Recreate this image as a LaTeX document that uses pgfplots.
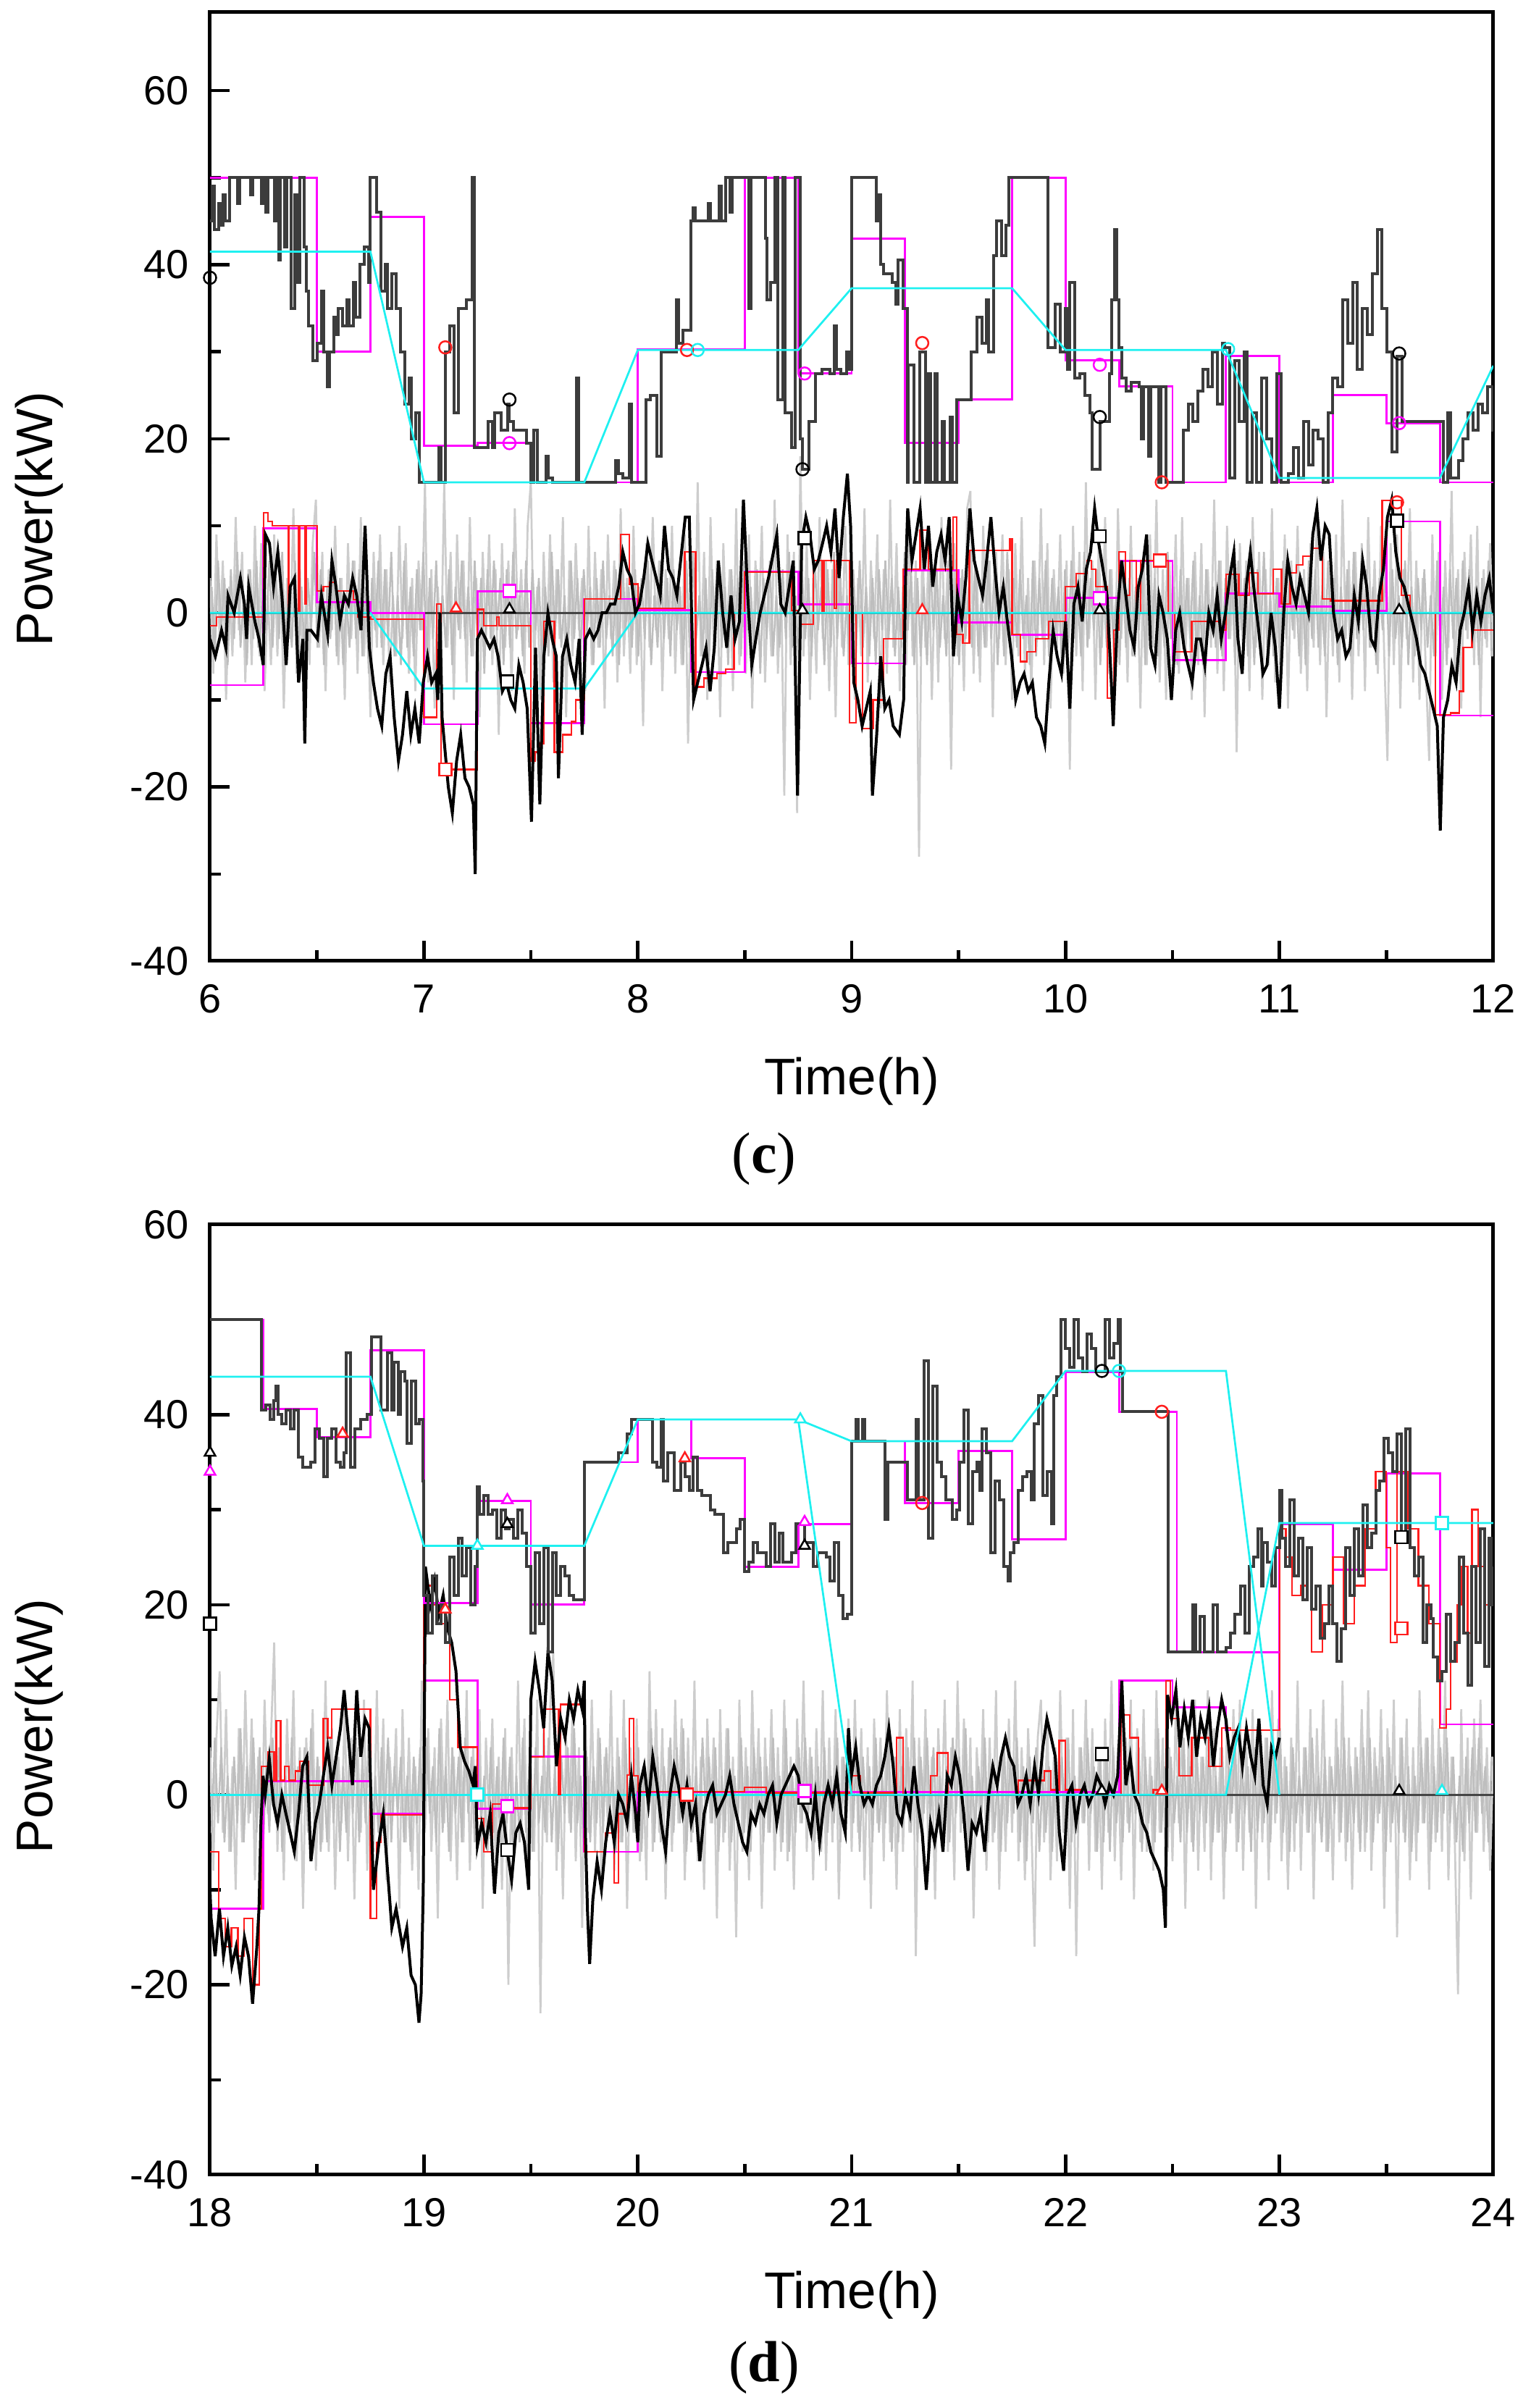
\documentclass[border=0pt]{standalone}
\usepackage{pgfplots}
\usepackage{pgfplotstable}
\pgfplotsset{compat=1.18}
\usepackage{fontspec}
\setmainfont{Liberation Sans}
\newfontfamily\tnr{Liberation Serif}
\definecolor{mag}{RGB}{255,0,255}
\definecolor{cya}{RGB}{30,240,240}
\definecolor{rd}{RGB}{255,30,30}
\definecolor{gr}{RGB}{205,205,205}
\definecolor{grc}{RGB}{190,190,190}
\definecolor{dk}{RGB}{60,60,60}
\definecolor{zl}{RGB}{70,70,70}
\pgfplotstableread[header=false, row sep=\\]{
3\\-5\\6\\-2\\4\\-6\\5\\-3\\7\\-4\\2\\-6\\5\\-3\\6\\-5\\4\\-2\\6\\-4\\
5\\-3\\7\\-5\\2\\-4\\6\\-6\\3\\-5\\4\\-2\\7\\-4\\5\\-6\\3\\-3\\6\\-5\\
4\\-6\\2\\-4\\6\\-3\\5\\-5\\3\\-7\\4\\-2\\6\\-4\\5\\-3\\7\\-5\\2\\-6\\
6\\-4\\3\\-5\\5\\-2\\7\\-6\\4\\-3\\6\\-5\\2\\-4\\5\\-6\\3\\-2\\6\\-3\\
3\\-5\\6\\-4\\4\\-7\\5\\-3\\6\\-2\\4\\-6\\5\\-4\\7\\-3\\2\\-5\\6\\-4\\
5\\-2\\4\\-6\\3\\-5\\7\\-3\\5\\-4\\2\\-6\\6\\-3\\4\\-5\\5\\-2\\3\\-6\\
4\\-4\\6\\-3\\2\\-5\\5\\-6\\7\\-2\\3\\-4\\5\\-5\\4\\-3\\6\\-6\\2\\-4\\
6\\-3\\4\\-5\\5\\-2\\3\\-6\\6\\-4\\7\\-3\\2\\-5\\4\\-6\\5\\-2\\6\\-4\\
3\\-6\\5\\-3\\4\\-5\\6\\-2\\3\\-4\\5\\-7\\4\\-3\\6\\-5\\2\\-4\\5\\-3\\
7\\-4\\2\\-6\\5\\-3\\4\\-5\\6\\-2\\3\\-6\\5\\-4\\7\\-3\\4\\-5\\2\\-6\\
5\\-3\\6\\-4\\3\\-5\\4\\-6\\5\\-2\\6\\-3\\4\\-5\\3\\-4\\7\\-2\\5\\-6\\
4\\-5\\3\\-6\\6\\-2\\5\\-4\\2\\-5\\6\\-3\\4\\-6\\5\\-3\\3\\-4\\6\\-5\\
2\\-4\\6\\-3\\5\\-6\\3\\-5\\7\\-2\\4\\-4\\5\\-3\\2\\-6\\6\\-5\\4\\-3\\
6\\-5\\4\\-2\\3\\-6\\5\\-4\\6\\-3\\2\\-5\\7\\-4\\4\\-2\\5\\-6\\3\\-4\\
5\\-3\\2\\-6\\6\\-4\\4\\-5\\3\\-2\\5\\-6\\6\\-3\\4\\-5\\2\\-4\\7\\-3\\
3\\-6\\5\\-4\\4\\-3\\6\\-5\\2\\-6\\5\\-2\\3\\-4\\6\\-5\\4\\-3\\5\\-6\\
6\\-2\\4\\-5\\3\\-6\\5\\-3\\7\\-4\\2\\-5\\4\\-6\\6\\-3\\5\\-2\\3\\-5\\
4\\-6\\6\\-3\\5\\-4\\2\\-5\\6\\-2\\4\\-6\\3\\-4\\5\\-5\\7\\-3\\4\\-2\\
5\\-4\\3\\-6\\4\\-2\\6\\-5\\5\\-3\\2\\-4\\6\\-6\\3\\-5\\4\\-2\\5\\-4\\
2\\-5\\6\\-4\\3\\-6\\5\\-3\\4\\-5\\6\\-2\\5\\-4\\3\\-6\\4\\-3\\6\\-5\\
}\coreC
\pgfplotstableread[header=false, row sep=\\]{
-4\\6\\-3\\5\\-5\\2\\-6\\4\\-3\\7\\-5\\3\\-2\\6\\-4\\5\\-6\\3\\-4\\6\\
-3\\5\\-6\\2\\-4\\6\\-5\\3\\-2\\5\\-4\\7\\-3\\4\\-6\\2\\-5\\6\\-3\\4\\
-6\\3\\-4\\5\\-2\\6\\-5\\4\\-3\\7\\-6\\2\\-4\\5\\-3\\6\\-5\\3\\-2\\4\\
-5\\2\\-6\\4\\-3\\5\\-4\\6\\-2\\3\\-5\\7\\-4\\3\\-6\\5\\-2\\4\\-5\\6\\
-2\\4\\-5\\6\\-3\\2\\-6\\5\\-4\\3\\-5\\6\\-3\\4\\-7\\2\\-5\\6\\-4\\3\\
-6\\5\\-3\\2\\-4\\6\\-5\\3\\-6\\4\\-2\\5\\-4\\7\\-3\\2\\-6\\4\\-5\\3\\
-3\\6\\-4\\5\\-2\\3\\-6\\4\\-5\\6\\-3\\2\\-4\\5\\-6\\3\\-2\\7\\-5\\4\\
-5\\3\\-2\\6\\-4\\5\\-3\\7\\-6\\2\\-4\\3\\-5\\6\\-2\\4\\-3\\5\\-6\\2\\
-4\\7\\-5\\2\\-3\\6\\-4\\3\\-6\\5\\-2\\4\\-5\\3\\-4\\6\\-3\\2\\-5\\7\\
-6\\2\\-4\\5\\-3\\6\\-2\\4\\-5\\3\\-6\\5\\-4\\2\\-3\\6\\-5\\4\\-2\\5\\
-3\\5\\-6\\4\\-2\\3\\-5\\6\\-4\\2\\-3\\7\\-6\\4\\-5\\3\\-2\\5\\-4\\6\\
-5\\4\\-2\\6\\-3\\5\\-4\\2\\-6\\3\\-5\\6\\-2\\4\\-3\\7\\-5\\2\\-4\\3\\
-2\\6\\-5\\3\\-4\\2\\-6\\5\\-3\\4\\-2\\6\\-5\\3\\-7\\4\\-3\\5\\-6\\2\\
-4\\3\\-6\\5\\-2\\4\\-3\\6\\-5\\2\\-4\\5\\-3\\6\\-2\\3\\-6\\4\\-5\\5\\
-6\\5\\-3\\2\\-5\\6\\-4\\3\\-2\\5\\-6\\4\\-3\\2\\-5\\7\\-4\\3\\-6\\4\\
-3\\2\\-5\\6\\-4\\3\\-6\\5\\-2\\4\\-3\\6\\-5\\2\\-4\\5\\-6\\3\\-2\\6\\
-5\\4\\-2\\3\\-6\\5\\-4\\2\\-3\\6\\-5\\4\\-2\\7\\-4\\3\\-6\\5\\-3\\2\\
-2\\5\\-4\\6\\-3\\2\\-5\\4\\-6\\3\\-2\\5\\-4\\6\\-5\\3\\-3\\4\\-6\\5\\
-4\\6\\-5\\3\\-2\\4\\-6\\5\\-3\\2\\-4\\6\\-5\\3\\-6\\2\\-4\\5\\-3\\6\\
-6\\3\\-4\\5\\-2\\6\\-3\\4\\-5\\2\\-6\\4\\-3\\5\\-4\\6\\-2\\3\\-5\\4\\
}\coreD
\pgfplotsset{
  panel/.style={
    anchor=south west, scale only axis, width=354.4pt,
    xtick distance=1, ytick={-40,-20,0,20,40,60},
    minor x tick num=1, minor y tick num=1,
    tick pos=left, tick align=inside,
    major tick length=5.5pt, minor tick length=3pt,
    every tick/.style={black, line width=0.9pt},
    axis line style={line width=1pt, black},
    ticklabel style={font=\fontsize{11.2}{13}\selectfont},
    xticklabel style={yshift=-3pt},
    yticklabel style={xshift=-2.3pt},
    /pgf/number format/assume math mode=true,
    xlabel={Time(h)}, ylabel={Power(kW)},
    label style={font=\fontsize{14.2}{17}\selectfont},
    xlabel style={at={(axis description cs:0.5,0)}, anchor=base, yshift=-37pt},
  },
  gry/.style={gr, line width=0.55pt},
  gryc/.style={grc, line width=0.5pt},
  lbk/.style={black, line width=0.8pt},
  ubk/.style={dk, line width=0.8pt, const plot},
  mg/.style={mag, line width=0.55pt, const plot},
  rdl/.style={rd, line width=0.45pt, const plot},
  cy/.style={cya, line width=0.55pt},
  mk/.style={only marks, mark size=1.7pt, mark options={fill=white, line width=0.5pt}},
}
\begin{document}
\begin{tikzpicture}
\path[use as bounding box] (0,0) rectangle (422.8pt,665pt);
% ================= (c) =================
\begin{axis}[panel, at={(58pt,399.6pt)}, height=262pt,
  xmin=6, xmax=12, ymin=-40, ymax=69,
  ylabel style={at={(axis description cs:-0.133,0.466)}, anchor=center}]
\addplot[gry] table[x expr={6+0.015*\coordindex}, y index=0, header=false, row sep=\\] {
4\\-7\\9\\-3\\6\\-10\\3\\-5\\11\\-2\\7\\-8\\5\\-6\\10\\-4\\8\\-9\\2\\-6\\
9\\-5\\6\\-11\\4\\-3\\12\\-7\\5\\-8\\3\\-6\\8\\13\\-4\\7\\-9\\5\\-2\\10\\
-6\\4\\-10\\8\\-3\\6\\-7\\11\\-5\\3\\-12\\7\\-4\\9\\-6\\5\\-8\\2\\-5\\10\\
-3\\8\\-7\\4\\-9\\6\\-2\\15\\-8\\5\\-11\\3\\-6\\15\\-4\\7\\-10\\9\\-3\\6\\
-8\\11\\-5\\4\\-12\\7\\-3\\9\\-6\\5\\-14\\8\\-4\\6\\-9\\12\\-2\\5\\-7\\10\\
15\\-6\\3\\-10\\7\\-4\\9\\-8\\5\\-3\\11\\-12\\6\\-5\\8\\-2\\4\\-9\\10\\-6\\
7\\-4\\5\\-11\\9\\-3\\6\\-8\\12\\-5\\4\\-7\\10\\-6\\3\\-13\\8\\-4\\11\\-2\\
6\\-9\\5\\-3\\10\\-7\\4\\-6\\9\\-15\\3\\-8\\15\\-5\\7\\-10\\11\\-4\\6\\-12\\
8\\-3\\5\\-9\\12\\-6\\4\\-7\\9\\-11\\6\\-2\\10\\-8\\3\\-5\\13\\-7\\4\\-21\\
9\\-6\\7\\-23\\18\\-5\\8\\-10\\4\\-7\\11\\-3\\6\\-9\\5\\-12\\8\\-4\\10\\-6\\
7\\-10\\4\\-5\\12\\-8\\6\\-3\\9\\-11\\5\\-7\\13\\-4\\8\\-9\\3\\-6\\10\\-5\\
6\\-28\\9\\-4\\7\\-10\\5\\-8\\11\\-3\\6\\-18\\8\\-5\\4\\-9\\12\\14\\-7\\5\\
-8\\10\\-4\\6\\-12\\7\\-3\\9\\-6\\5\\-10\\8\\-5\\11\\-7\\4\\-9\\6\\-3\\12\\
-6\\8\\-11\\5\\-4\\9\\-7\\6\\-18\\10\\-5\\7\\-9\\15\\-3\\6\\-10\\8\\-4\\11\\
-7\\5\\-9\\12\\-3\\6\\-8\\10\\-5\\4\\-11\\7\\-6\\9\\-4\\13\\-8\\5\\-10\\6\\
-3\\9\\-7\\11\\-5\\4\\-10\\7\\-6\\8\\-12\\5\\-4\\13\\-7\\6\\-9\\10\\-3\\7\\
-16\\8\\-5\\6\\-9\\11\\-4\\7\\-10\\5\\-6\\12\\-8\\4\\-7\\9\\-11\\6\\-3\\10\\
-7\\5\\-9\\8\\-4\\11\\-6\\7\\-12\\4\\-5\\9\\-8\\13\\-3\\6\\-10\\7\\-5\\8\\
-9\\11\\-4\\6\\-7\\10\\-5\\-17\\8\\-6\\9\\-11\\5\\-3\\12\\-8\\6\\-10\\4\\-7\\
-17\\9\\-5\\7\\-10\\6\\-4\\14\\-8\\5\\-11\\7\\-3\\9\\-6\\10\\-12\\5\\-4\\8\\
-5\\
};
\addplot[gryc] table[x expr={6.0075+0.015*\coordindex}, y index=0] {\coreC};
\addplot[zl, line width=0.6pt] coordinates {(6,0)(12,0)};
\addplot[mg] coordinates {(6.0,-8.3)(6.25,9.7)(6.5,1.2)(6.75,0)(7.0,-12.8)(7.25,2.5)(7.5,-12.7)(7.75,1.6)(8.0,0.3)(8.25,-6.8)(8.5,4.7)(8.75,1.0)(9.0,-5.8)(9.25,4.9)(9.5,-1.1)(9.75,-2.5)(10.0,1.7)(10.25,6.0)(10.5,-5.4)(10.75,2.2)(11.0,0.7)(11.25,0.2)(11.5,10.5)(11.75,-11.8)(12.0,-11.8)};
\addplot[rdl] coordinates {(6.00,-1.5)(6.03,-0.5)(6.25,11.5)(6.27,10.5)(6.29,10)(6.365,0)(6.37,10)(6.414,0)(6.42,10)(6.443,1)(6.45,10)(6.50,2.5)(6.53,3)(6.56,3.5)(6.59,2.5)(6.67,1.5)(6.69,-0.5)(6.75,-0.7)(7.00,-12)(7.06,1)(7.08,-18)(7.25,0.4)(7.28,-1.5)(7.34,-0.5)(7.35,-1.5)(7.50,-17)(7.52,-16)(7.54,-15)(7.56,-1)(7.61,-16)(7.65,-14)(7.69,-12.5)(7.71,-10)(7.75,1.6)(7.92,9)(7.96,3.3)(8.00,0.5)(8.22,7)(8.27,-8.5)(8.31,-7.5)(8.37,-7)(8.41,-6.5)(8.45,0)(8.50,4.7)(8.72,0.3)(8.76,-1.3)(8.82,6)(8.86,0)(8.87,6)(8.92,0.5)(8.93,6)(8.99,-12.6)(9.02,0)(9.05,-13.3)(9.10,-10)(9.15,-3)(9.24,5)(9.32,9.5)(9.36,5)(9.475,11)(9.49,-2.5)(9.52,-3.5)(9.55,7.2)(9.74,8.5)(9.75,-2.5)(9.79,-5.6)(9.82,-4.5)(9.86,-3)(9.92,-1)(10.00,3)(10.05,4.5)(10.10,6)(10.12,5)(10.14,3)(10.195,-9.8)(10.225,-2)(10.25,7)(10.28,2)(10.30,6)(10.33,0)(10.35,6)(10.48,0)(10.51,-4.5)(10.59,-1)(10.72,-2)(10.75,4.4)(10.81,2)(10.86,4.6)(10.90,2.2)(10.97,5)(11.01,1)(11.05,4.6)(11.08,5.5)(11.11,6.5)(11.15,7.4)(11.20,1.6)(11.24,1.4)(11.48,12.9)(11.57,2)(11.61,0)(11.73,-11.7)(11.80,-11.5)(11.84,-9)(11.86,-4)(11.90,-2)(12.0,-2)};
\addplot[cy] coordinates {(6,0)(6.75,0)(7.0,-8.7)(7.75,-8.7)(8.0,0)(12,0)};
\addplot[lbk] coordinates {(6.000,-3)(6.025,-5)(6.054,-2)(6.074,-4)(6.084,2)(6.113,0)(6.142,4)(6.161,1)(6.171,-3)(6.181,3)(6.210,-1)(6.229,-3)(6.249,-6)(6.259,9)(6.278,8)(6.297,3)(6.317,7)(6.336,2)(6.356,-6)(6.375,3)(6.395,4)(6.414,-8)(6.434,-3)(6.443,-15)(6.453,-2)(6.472,-2)(6.502,-3)(6.521,2)(6.550,-2.5)(6.570,6)(6.589,3)(6.608,-1)(6.628,2)(6.647,1)(6.667,4)(6.686,2)(6.706,-2)(6.725,10)(6.745,-4)(6.764,-8)(6.783,-11)(6.803,-13)(6.822,-7)(6.842,-5)(6.861,-12)(6.881,-17)(6.900,-14)(6.920,-9)(6.939,-14)(6.958,-11)(6.978,-15)(6.997,-8)(7.017,-5)(7.036,-8)(7.056,-7)(7.065,-10)(7.075,0)(7.085,-12)(7.114,-20)(7.133,-23)(7.153,-17)(7.172,-14)(7.192,-19)(7.211,-20)(7.231,-22)(7.240,-30)(7.250,-3)(7.269,-2)(7.289,-3)(7.308,-4)(7.328,-3)(7.347,-5)(7.367,-9)(7.386,-8)(7.406,-10)(7.425,-11)(7.444,-6)(7.464,-8)(7.483,-11)(7.503,-24)(7.522,-4)(7.542,-22)(7.561,-5)(7.580,0)(7.600,-3)(7.619,-5)(7.629,-19)(7.648,-5)(7.668,-3)(7.687,-6)(7.707,-8)(7.726,-3)(7.740,-14)(7.755,-3)(7.775,-2)(7.794,-3)(7.814,-2)(7.833,0)(7.853,0)(7.872,1)(7.892,1)(7.911,3)(7.930,7)(7.950,5)(7.969,4)(7.989,0)(8.008,1)(8.028,4)(8.047,8)(8.066,6)(8.086,4)(8.105,2)(8.125,10)(8.144,5)(8.164,4)(8.183,2)(8.222,11)(8.241,11)(8.261,-10)(8.280,-8)(8.300,-6)(8.319,-4)(8.338,-9)(8.358,-4)(8.377,6)(8.397,0)(8.416,-4)(8.436,2)(8.455,-3)(8.475,-1)(8.494,13)(8.514,2)(8.533,-6)(8.552,-3)(8.572,0)(8.611,4)(8.650,9)(8.669,1)(8.689,0)(8.708,3)(8.727,6)(8.747,-21)(8.766,8)(8.786,11)(8.805,9)(8.825,5)(8.844,6)(8.864,8)(8.883,10)(8.903,7)(8.922,12)(8.941,4)(8.961,11)(8.980,16)(8.995,10)(9.010,-8)(9.029,-10)(9.049,-13)(9.068,-11)(9.087,-9)(9.097,-21)(9.117,-14)(9.136,-5)(9.155,-11)(9.175,-10)(9.194,-13)(9.223,-14)(9.243,-10)(9.252,4)(9.262,12)(9.282,6)(9.301,9)(9.320,12)(9.340,5)(9.359,10)(9.379,3)(9.398,7)(9.418,9)(9.437,6)(9.456,11)(9.466,3)(9.476,-5)(9.495,2)(9.515,-1)(9.534,4)(9.553,12)(9.573,6)(9.592,4)(9.612,2)(9.631,6)(9.651,11)(9.670,5)(9.689,0)(9.709,3)(9.728,-1)(9.748,-5)(9.767,-10)(9.787,-8)(9.806,-7)(9.825,-9)(9.845,-8)(9.864,-12)(9.884,-13)(9.903,-15)(9.922,-8)(9.942,-2)(9.961,-5)(9.981,-7)(10.000,-1)(10.020,-11)(10.039,1)(10.058,3)(10.078,-1)(10.097,5)(10.117,7)(10.136,12)(10.155,8)(10.175,5)(10.194,2)(10.214,-8)(10.223,-13)(10.243,0)(10.262,6)(10.282,2)(10.301,-2)(10.321,-4)(10.340,3)(10.359,5)(10.379,9)(10.398,-4)(10.418,-6)(10.437,2)(10.456,0)(10.476,-3)(10.495,-10)(10.515,-2)(10.534,0)(10.554,-4)(10.573,-6)(10.592,-8)(10.612,-3)(10.631,-3)(10.651,-6)(10.670,0)(10.690,-2)(10.709,2)(10.728,-3)(10.748,0)(10.767,4)(10.787,7)(10.806,-3)(10.826,-7)(10.845,3)(10.864,7)(10.884,2)(10.903,-2)(10.923,-7)(10.942,-6)(10.961,0)(10.981,-4)(11.000,-11)(11.020,0)(11.039,6)(11.058,3)(11.078,1)(11.097,4)(11.117,2)(11.136,0)(11.156,9)(11.175,12)(11.194,6)(11.214,10)(11.233,9)(11.253,0)(11.272,-3)(11.291,-2)(11.311,-5)(11.330,-4)(11.350,2)(11.369,-1)(11.389,6)(11.408,3)(11.428,-3)(11.447,-4)(11.466,2)(11.486,5)(11.505,11)(11.525,13)(11.544,7)(11.563,4)(11.583,3)(11.602,1)(11.622,-1)(11.641,-3)(11.660,-6)(11.680,-7)(11.699,-9)(11.719,-11)(11.738,-13)(11.752,-25)(11.767,-12)(11.787,-10)(11.806,-6)(11.826,-8)(11.845,-2)(11.864,0)(11.884,3)(11.903,-2)(11.923,2)(11.942,-1)(11.961,2)(11.981,4)(12.000,0)};
\addplot[mg] coordinates {(6.0,50)(6.5,30)(6.75,45.5)(7.0,19.2)(7.25,19.5)(7.5,15)(8.0,30.3)(8.5,50)(8.75,27.5)(9.0,43)(9.25,19.5)(9.5,24.5)(9.75,50)(10.0,29)(10.25,26)(10.5,15)(10.75,29.5)(11.0,15)(11.25,25)(11.5,21.8)(11.75,15)(12.0,15)};
\addplot[ubk] coordinates {(6.00,45)(6.01,49)(6.02,44)(6.04,47)(6.05,44.5)(6.06,48)(6.07,45)(6.09,50)(6.13,47)(6.14,50)(6.19,48)(6.20,50)(6.24,47)(6.25,50)(6.26,46)(6.27,50)(6.30,45)(6.31,50)(6.32,40.5)(6.33,50)(6.35,42)(6.36,50)(6.38,35)(6.395,48)(6.41,38)(6.42,50)(6.44,42)(6.45,37)(6.46,33)(6.48,29)(6.50,31)(6.52,37)(6.53,30)(6.55,26)(6.56,30)(6.58,34)(6.59,32)(6.60,35)(6.62,33)(6.64,36)(6.65,33)(6.67,38)(6.68,34)(6.70,40)(6.72,42)(6.74,38)(6.75,50)(6.78,46)(6.80,37)(6.82,40)(6.83,35)(6.85,39)(6.87,35)(6.89,30)(6.91,24)(6.93,27)(6.94,20)(6.96,23)(6.98,15)(7.07,19)(7.08,15)(7.10,30)(7.12,33)(7.14,23)(7.16,35)(7.20,36)(7.225,50)(7.235,19)(7.30,22)(7.32,19)(7.33,23)(7.36,21)(7.39,24)(7.40,22)(7.42,21)(7.48,19.5)(7.50,15)(7.515,21)(7.53,15)(7.57,18)(7.58,15.5)(7.60,15)(7.715,27)(7.725,15)(7.895,17.5)(7.91,16)(7.93,15.5)(7.96,24)(7.97,15)(8.04,24.5)(8.06,25)(8.09,18)(8.11,30)(8.18,36)(8.19,31)(8.21,32.5)(8.25,45)(8.26,46.5)(8.27,45)(8.33,47)(8.34,45)(8.38,49)(8.39,45)(8.41,50)(8.43,46)(8.44,50)(8.52,35)(8.53,50)(8.597,43)(8.605,36)(8.62,38)(8.64,50)(8.654,24.5)(8.68,50)(8.69,23)(8.72,19)(8.735,50)(8.76,20)(8.77,16.5)(8.80,22)(8.83,27.5)(8.86,28)(8.90,27.5)(8.92,33)(8.93,28)(8.95,27.5)(8.975,30)(8.99,28)(9.00,50)(9.114,45)(9.125,48)(9.137,40)(9.15,39)(9.19,38)(9.205,35.5)(9.217,40.5)(9.24,35)(9.26,15)(9.265,28.5)(9.29,15)(9.32,30)(9.345,15)(9.355,27.5)(9.37,15)(9.39,27.5)(9.40,15)(9.425,22)(9.435,15)(9.46,22.5)(9.47,15)(9.49,24.5)(9.56,30)(9.585,34)(9.61,31)(9.63,36)(9.64,30)(9.665,41)(9.677,45)(9.70,41)(9.72,44.5)(9.735,50)(9.918,30.5)(9.952,35.5)(9.975,30)(9.998,35)(10.01,28)(10.02,38)(10.044,27)(10.067,27.5)(10.09,25)(10.113,23)(10.125,16.5)(10.16,22)(10.205,27.5)(10.217,36)(10.228,44)(10.24,36)(10.251,30.5)(10.262,27)(10.285,25.5)(10.308,26.5)(10.343,26)(10.354,20)(10.366,26)(10.389,18)(10.40,26)(10.435,15)(10.446,26)(10.47,15)(10.55,21)(10.573,24)(10.596,22)(10.619,25.5)(10.642,28)(10.665,26)(10.688,30)(10.711,24)(10.734,31)(10.745,30.5)(10.768,15.5)(10.79,29)(10.813,22)(10.837,30)(10.848,15)(10.871,23)(10.894,15)(10.917,27)(10.94,20)(10.963,15)(10.986,27.5)(11.009,15)(11.043,16)(11.066,19)(11.089,15.5)(11.112,22)(11.135,17)(11.158,21)(11.181,20)(11.204,15)(11.227,23)(11.25,27)(11.273,26)(11.296,36)(11.319,31)(11.342,38)(11.365,28)(11.388,35)(11.411,32)(11.434,39)(11.457,44)(11.48,35)(11.503,30)(11.526,18.5)(11.549,29.5)(11.572,22)(11.767,15)(11.786,23)(11.802,15.5)(11.836,17.5)(11.859,20)(11.882,23)(11.905,21)(11.928,24)(11.951,23)(11.974,26)(11.997,21)(12.0,21)};
\addplot[cy] coordinates {(6,41.5)(6.75,41.5)(7.0,15)(7.75,15)(8.0,30.2)(8.75,30.2)(9.0,37.3)(9.75,37.3)(10.0,30.2)(10.75,30.2)(11.0,15.5)(11.75,15.5)(12,28.4)};
% markers
\addplot[mk, mark=o, draw=black] coordinates {(6.0,38.5)(7.4,24.5)(8.77,16.5)(10.16,22.5)(11.56,29.8)};
\addplot[mk, mark=o, draw=mag] coordinates {(7.4,19.5)(8.78,27.5)(10.16,28.5)(11.56,21.8)};
\addplot[mk, mark=o, draw=rd] coordinates {(7.1,30.5)(8.23,30.2)(9.33,31)(10.45,15)(11.55,12.7)};
\addplot[mk, mark=o, draw=cya] coordinates {(8.28,30.2)(10.76,30.3)};
\addplot[mk, mark=square*, draw=black] coordinates {(7.39,-7.9)(8.78,8.6)(10.16,8.8)(11.55,10.6)};
\addplot[mk, mark=square*, draw=mag] coordinates {(7.4,2.5)(10.16,1.7)};
\addplot[mk, mark=square*, draw=rd] coordinates {(7.1,-18)(10.44,6)};
\addplot[mk, mark=triangle*, draw=black] coordinates {(7.4,0.4)(8.77,0.3)(10.16,0.3)(11.56,0.3)};
\addplot[mk, mark=triangle*, draw=rd] coordinates {(7.15,0.5)(9.33,0.3)};
\end{axis}
% ================= (d) =================
\begin{axis}[panel, at={(58pt,64.4pt)}, height=262.4pt,
  xmin=18, xmax=24, ymin=-40, ymax=60,
  ylabel style={at={(axis description cs:-0.133,0.472)}, anchor=center}]
\addplot[gry] table[x expr={18+0.015*\coordindex}, y index=0, header=false, row sep=\\] {
5\\-8\\6\\13\\-4\\9\\-6\\3\\-10\\7\\-5\\11\\-3\\8\\-9\\4\\-7\\10\\-2\\6\\
16\\-6\\4\\-9\\8\\-3\\11\\-7\\5\\-12\\6\\-4\\9\\-8\\3\\-5\\12\\-6\\7\\-10\\
4\\-3\\9\\-7\\6\\-11\\5\\-4\\10\\-8\\3\\-6\\11\\-5\\8\\-9\\4\\-2\\7\\-12\\
9\\-5\\6\\-8\\3\\-10\\12\\-4\\7\\-6\\5\\-13\\8\\-3\\10\\-7\\4\\-9\\6\\-5\\
11\\-8\\5\\-4\\9\\-12\\6\\-3\\8\\-7\\4\\-10\\7\\-20\\5\\-6\\12\\-4\\8\\-9\\
3\\-6\\10\\-23\\7\\-5\\9\\15\\-8\\4\\-11\\6\\-3\\9\\-7\\5\\-14\\8\\-4\\10\\
-6\\7\\-9\\4\\-3\\11\\-8\\6\\-5\\10\\-12\\5\\-4\\8\\-7\\3\\-9\\13\\-6\\9\\
-4\\7\\-11\\5\\-6\\10\\-3\\8\\-9\\6\\-5\\12\\-7\\4\\-10\\8\\-3\\6\\-13\\9\\
-5\\7\\-8\\4\\-15\\10\\-6\\5\\-9\\11\\-3\\7\\-12\\6\\-4\\9\\-8\\5\\-6\\10\\
-7\\4\\-10\\8\\-3\\12\\-6\\5\\-9\\7\\-4\\11\\-8\\6\\-5\\9\\-11\\4\\-3\\8\\
-6\\10\\-4\\7\\-9\\5\\-12\\8\\-3\\6\\-7\\11\\-5\\4\\-10\\9\\-6\\7\\-4\\12\\
-17\\6\\-5\\9\\-8\\4\\-11\\7\\-3\\10\\-6\\5\\-9\\12\\-4\\8\\-7\\6\\-13\\5\\
-3\\9\\-8\\6\\-5\\11\\-10\\4\\-6\\8\\-4\\12\\-7\\5\\-9\\7\\-3\\-16\\6\\10\\
-5\\8\\-9\\4\\-7\\11\\-4\\6\\-12\\9\\-17\\5\\-3\\10\\-8\\7\\-6\\4\\-10\\8\\
-4\\12\\-7\\5\\-9\\6\\-3\\10\\-11\\7\\-5\\9\\-6\\4\\-8\\11\\-4\\6\\-10\\5\\
-7\\9\\-3\\8\\-12\\6\\-5\\10\\-8\\4\\-6\\11\\-9\\7\\-4\\5\\-11\\8\\-3\\9\\
-6\\10\\-8\\5\\-4\\9\\-12\\7\\-5\\6\\-9\\11\\-3\\8\\-7\\4\\-10\\6\\-6\\12\\
-8\\5\\-4\\9\\-11\\7\\-3\\10\\-6\\4\\-9\\8\\-5\\12\\-7\\6\\-10\\5\\-4\\9\\
-6\\11\\-8\\5\\-3\\9\\-12\\7\\-5\\10\\-15\\6\\-4\\8\\-9\\5\\-7\\11\\-3\\6\\
-10\\8\\-5\\7\\-6\\12\\-9\\4\\-5\\-21\\9\\-7\\6\\-11\\8\\-4\\10\\-6\\5\\-8\\
4\\
};
\addplot[gryc] table[x expr={18.0075+0.015*\coordindex}, y index=0] {\coreD};
\addplot[zl, line width=0.6pt] coordinates {(18,0)(24,0)};
\addplot[cy] coordinates {(18,0)(21,0)};
\addplot[mg] coordinates {(18.0,-12)(18.25,1.4)(18.75,-2)(19.0,12)(19.25,-1.5)(19.5,4)(19.75,-6)(20.0,0.3)(22.25,12)(22.5,9.2)(22.75,6.8)(23.0,28.5)(23.25,23.7)(23.5,33.8)(23.75,7.4)(24.0,7.4)};
\addplot[rdl] coordinates {(18.0,-6)(18.04,-13)(18.07,-16)(18.10,-14)(18.13,-17)(18.16,-13)(18.2,-20)(18.23,-12)(18.24,3)(18.27,4.5)(18.30,1.5)(18.31,7.8)(18.33,1.5)(18.35,3)(18.37,1.5)(18.40,2.5)(18.42,3.5)(18.46,1.0)(18.53,8)(18.55,6)(18.57,9)(18.75,-13)(18.78,-5)(18.80,-2.1)(19.0,22)(19.04,20)(19.08,18)(19.12,10)(19.16,5)(19.25,-2.5)(19.28,-6)(19.32,-1)(19.36,-1.4)(19.50,4)(19.56,9)(19.63,0)(19.64,9.5)(19.75,-6)(19.85,-4)(19.89,-9.3)(19.91,-2)(19.95,2.1)(19.96,8)(19.98,2)(20.0,0.3)(20.5,0.8)(20.6,0.2)(21.0,2)(21.04,0.2)(21.21,6)(21.24,0)(21.37,2)(21.40,4.4)(21.45,0)(21.78,1.5)(21.90,2.5)(21.93,0.5)(21.97,5.7)(22.0,0.5)(22.07,0)(22.26,8.4)(22.30,6)(22.34,0)(22.41,0.5)(22.47,12)(22.49,8)(22.53,2)(22.59,6)(22.67,3)(22.73,7)(22.77,6.8)(23.0,28)(23.03,25)(23.06,21)(23.10,22)(23.13,26)(23.15,15)(23.2,20)(23.25,25)(23.3,18)(23.35,22)(23.4,28)(23.45,34)(23.5,26)(23.52,16)(23.55,34)(23.6,28)(23.65,22)(23.7,18)(23.75,7)(23.78,9)(23.8,14)(23.83,20)(23.85,24)(23.88,17)(23.9,30)(23.93,24)(23.96,20)(24.0,23)};
\addplot[lbk] coordinates {(18.000,-10)(18.005,-13)(18.024,-17)(18.044,-12)(18.063,-17)(18.083,-14)(18.102,-18)(18.122,-16)(18.141,-19)(18.161,-15)(18.180,-17)(18.199,-22)(18.219,-16)(18.229,-12)(18.238,-3)(18.248,2)(18.258,0)(18.277,3.8)(18.297,-1)(18.316,-3)(18.336,0)(18.355,-2)(18.375,-4)(18.394,-6)(18.414,-2)(18.433,3)(18.453,4)(18.472,-7)(18.492,-3)(18.511,-1)(18.530,2)(18.550,5)(18.570,1)(18.590,4)(18.610,7)(18.627,11)(18.647,6)(18.666,1)(18.686,11)(18.705,4)(18.725,8)(18.744,7)(18.754,-2)(18.764,-10)(18.790,-5)(18.810,-2)(18.830,-8)(18.850,-14)(18.870,-12)(18.900,-16)(18.920,-14)(18.940,-19)(18.960,-20)(18.977,-24)(18.987,-21)(18.997,-10)(19.007,24)(19.030,20)(19.050,22.5)(19.070,19)(19.090,21)(19.110,17.5)(19.130,16)(19.150,13)(19.170,5)(19.190,3.5)(19.210,2.5)(19.230,1)(19.240,3)(19.250,-5.4)(19.270,-3)(19.290,-5)(19.310,-2)(19.330,-10.4)(19.350,-4)(19.370,-2)(19.390,-6)(19.410,-9)(19.430,-4)(19.450,-3)(19.470,-5)(19.490,-10)(19.500,10)(19.520,14)(19.540,11)(19.560,7)(19.580,15)(19.600,12)(19.620,3)(19.640,8)(19.660,6)(19.680,10)(19.700,8)(19.720,11)(19.740,9)(19.750,12)(19.755,-4)(19.765,-12.3)(19.775,-17.8)(19.790,-11)(19.810,-7)(19.830,-10)(19.850,-5)(19.870,-2)(19.890,-5)(19.910,0)(19.930,-1)(19.950,-3)(19.970,2)(19.990,-2)(20.000,-5)(20.010,1)(20.030,3)(20.050,-1)(20.070,4)(20.090,1)(20.110,-3)(20.130,-6)(20.150,0)(20.170,3)(20.190,1)(20.210,-2)(20.230,1)(20.250,-3)(20.270,-1)(20.290,-7)(20.310,-2)(20.330,0)(20.350,1)(20.370,-2)(20.390,-1)(20.410,0)(20.430,2)(20.450,-1)(20.470,-3)(20.490,-5)(20.510,-6)(20.530,-2)(20.550,-3)(20.570,-1)(20.590,-2)(20.610,0)(20.630,1)(20.650,-3)(20.670,0)(20.690,1)(20.710,2)(20.730,3)(20.750,2)(20.770,-1)(20.790,-2)(20.810,-4)(20.830,0)(20.850,-5)(20.870,-1)(20.890,1)(20.910,-1)(20.930,2)(20.950,-2)(20.970,-4)(20.985,7)(20.999,2)(21.019,5)(21.038,1)(21.058,-1)(21.077,0)(21.097,-1)(21.116,1)(21.136,2)(21.155,4)(21.174,7)(21.194,3)(21.213,-2)(21.233,-3)(21.252,0)(21.272,-2)(21.291,3)(21.310,-1)(21.330,-4)(21.349,-10)(21.369,-3)(21.388,-5)(21.408,-2)(21.427,-6)(21.447,2)(21.466,1)(21.485,4)(21.505,2)(21.524,-2)(21.544,-8)(21.563,-3)(21.583,-4)(21.602,-2)(21.622,-6)(21.641,0)(21.660,3)(21.680,1)(21.699,4)(21.719,6)(21.738,4)(21.758,3)(21.777,-1)(21.796,0)(21.816,2)(21.835,-1)(21.855,3)(21.874,0)(21.894,5)(21.913,8)(21.933,6)(21.952,4)(21.971,-4)(21.991,-8)(22.010,0)(22.030,1)(22.049,-3)(22.069,0)(22.088,1)(22.108,-1)(22.127,0)(22.146,2)(22.166,1)(22.185,-1)(22.205,1)(22.224,0)(22.244,2)(22.263,12)(22.282,1)(22.302,4)(22.321,0)(22.341,-1)(22.360,-3)(22.380,-4)(22.399,-6)(22.419,-7)(22.438,-8)(22.457,-10)(22.467,-14)(22.477,10.5)(22.496,8)(22.516,11)(22.535,5)(22.555,9)(22.574,6)(22.594,10)(22.613,4)(22.632,8)(22.652,6)(22.671,9)(22.691,3)(22.710,7)(22.730,10)(22.749,8)(22.768,4)(22.788,6)(22.807,7)(22.827,3)(22.846,7)(22.866,4)(22.885,2)(22.904,8)(22.924,1)(22.943,-1)(22.963,5)(22.982,4)(23.000,6)};
\addplot[mg] coordinates {(18.0,50)(18.25,40.6)(18.5,37.6)(18.75,46.8)(19.0,20.2)(19.25,30.9)(19.5,20)(19.75,35)(20.0,39.5)(20.25,35.4)(20.5,24)(20.75,28.5)(21.0,37.2)(21.25,30.7)(21.5,36.2)(21.75,26.9)(22.0,44.5)(22.25,40.3)(22.52,15)(23.0,15)};
\addplot[ubk] coordinates {(18.00,50)(18.24,40.5)(18.26,41)(18.28,39.5)(18.297,41.5)(18.307,43)(18.317,40)(18.336,39)(18.355,40.5)(18.375,38.5)(18.394,40.5)(18.414,35.5)(18.433,34.5)(18.472,35)(18.491,38.5)(18.511,37.5)(18.53,33.5)(18.55,37.5)(18.569,38.5)(18.589,35)(18.608,34.5)(18.627,36)(18.637,46.5)(18.656,34.5)(18.676,38.5)(18.705,39.5)(18.734,40)(18.754,48.2)(18.80,40.5)(18.83,46.5)(18.85,40.5)(18.86,45.5)(18.88,40)(18.89,44.5)(18.91,43.5)(18.92,37)(18.94,43.5)(18.96,39)(18.98,39.5)(18.995,33)(19.0,21)(19.02,17)(19.04,23)(19.06,18)(19.08,20)(19.10,16)(19.12,25)(19.14,21)(19.16,27)(19.18,23)(19.20,26)(19.22,20)(19.24,24)(19.25,32.4)(19.26,29.5)(19.28,31.5)(19.30,29.5)(19.32,30)(19.34,27)(19.36,30)(19.38,28)(19.40,29)(19.42,27)(19.44,30)(19.46,27.5)(19.48,24)(19.50,17)(19.52,25.5)(19.54,18)(19.56,26)(19.58,15)(19.60,25.5)(19.62,21)(19.64,24)(19.66,23)(19.68,21)(19.70,20.5)(19.75,35)(19.91,36)(19.95,38)(19.97,39.5)(20.07,35)(20.09,34.5)(20.11,39.5)(20.12,33)(20.14,36)(20.17,32)(20.20,35)(20.22,33.5)(20.24,32)(20.26,35.5)(20.28,32)(20.30,31.5)(20.34,30)(20.36,29.5)(20.40,25.5)(20.42,26.5)(20.46,28)(20.48,29)(20.50,23.5)(20.52,24.5)(20.54,26.5)(20.56,25.5)(20.60,24)(20.62,28.5)(20.64,24.5)(20.66,27.5)(20.68,24.5)(20.72,25.5)(20.74,28.5)(20.78,26.5)(20.82,24)(20.84,25.5)(20.88,25)(20.90,22.5)(20.92,26.5)(20.94,21)(20.96,18.5)(20.98,19)(21.00,37.2)(21.02,39.5)(21.03,37.2)(21.05,39.5)(21.06,37.2)(21.155,29)(21.17,35)(21.26,31)(21.30,39.5)(21.31,31)(21.34,45.7)(21.36,27)(21.38,43)(21.40,35)(21.42,33.5)(21.44,31)(21.47,29)(21.49,30)(21.505,35)(21.525,40.5)(21.545,28.5)(21.565,34)(21.585,35)(21.60,32)(21.61,38.5)(21.63,36)(21.65,25.5)(21.67,33)(21.69,31)(21.71,24)(21.73,22.5)(21.74,25.5)(21.76,26.5)(21.78,32)(21.80,33.5)(21.82,34)(21.84,31)(21.855,39)(21.875,42)(21.895,31.5)(21.915,34)(21.935,28.5)(21.945,42)(21.96,44)(21.98,50)(22.00,47)(22.02,45)(22.04,50)(22.06,46)(22.08,44.5)(22.10,48.5)(22.12,47)(22.14,44.5)(22.17,44.5)(22.185,50)(22.205,46)(22.225,47.5)(22.245,50)(22.255,44.5)(22.265,40.3)(22.48,15)(22.595,20)(22.61,15)(22.63,18.8)(22.65,15)(22.69,20)(22.71,15)(22.75,15.5)(22.77,17)(22.79,19)(22.82,22)(22.84,17)(22.86,24)(22.88,25)(22.90,28)(22.915,22)(22.925,26.5)(22.945,24.5)(22.965,22)(22.98,26)(23.00,32)(23.01,27)(23.03,24)(23.05,31)(23.07,23)(23.09,27)(23.11,20.5)(23.13,26)(23.15,19.5)(23.17,22)(23.19,16.5)(23.21,18)(23.23,22)(23.25,18)(23.27,14)(23.29,17.5)(23.31,26)(23.33,21)(23.35,28)(23.37,23)(23.39,30.5)(23.41,26)(23.43,27.5)(23.45,32)(23.47,33)(23.49,37.5)(23.51,36)(23.53,34)(23.55,38)(23.57,27)(23.59,38.5)(23.61,26)(23.63,23)(23.65,25)(23.67,16)(23.69,20)(23.71,18.5)(23.72,14.5)(23.74,12)(23.76,13)(23.78,19)(23.80,14)(23.82,16)(23.84,25)(23.86,17)(23.88,11.5)(23.90,24)(23.92,16)(23.94,28)(23.96,13.5)(23.98,27)(23.99,20)(24.0,24)};
\addplot[cy] coordinates {(18,44)(18.75,44)(19.0,26.2)(19.75,26.2)(20.0,39.5)(20.75,39.5)(21.0,0)(22.75,0)(23.0,28.6)(24,28.6)};
\addplot[cy] coordinates {(20.75,39.5)(21.0,37.2)(21.75,37.2)(22.0,44.6)(22.75,44.6)(23.0,0)};
% markers
\addplot[mk, mark=triangle*, draw=mag] coordinates {(18.0,34)(19.39,31)(20.78,28.7)};
\addplot[mk, mark=triangle*, draw=black] coordinates {(18.0,36)(19.39,28.5)(20.78,26.2)(22.17,0.4)(23.56,0.4)};
\addplot[mk, mark=triangle*, draw=rd] coordinates {(18.62,38)(19.1,19.5)(20.22,35.4)(22.45,0.4)};
\addplot[mk, mark=triangle*, draw=cya] coordinates {(19.25,26.2)(20.76,39.5)(23.76,0.4)};
\addplot[mk, mark=o, draw=rd] coordinates {(21.33,30.7)(22.45,40.3)};
\addplot[mk, mark=o, draw=black] coordinates {(22.17,44.6)};
\addplot[mk, mark=o, draw=cya] coordinates {(22.25,44.6)};
\addplot[mk, mark=square*, draw=black] coordinates {(18.0,18)(19.39,-5.8)(20.78,-0.3)(22.17,4.3)(23.57,27.1)};
\addplot[mk, mark=square*, draw=mag] coordinates {(19.39,-1.2)(20.78,0.4)};
\addplot[mk, mark=square*, draw=rd] coordinates {(20.23,0)(23.57,17.5)};
\addplot[mk, mark=square*, draw=cya] coordinates {(19.25,0)(23.76,28.6)};
\end{axis}
\node[anchor=base] at (211pt,341pt) {\tnr\fontsize{16}{18}\selectfont(\textbf{c})};
\node[anchor=base] at (211pt,7.4pt) {\tnr\fontsize{16}{18}\selectfont(\textbf{d})};
\end{tikzpicture}
\end{document}
